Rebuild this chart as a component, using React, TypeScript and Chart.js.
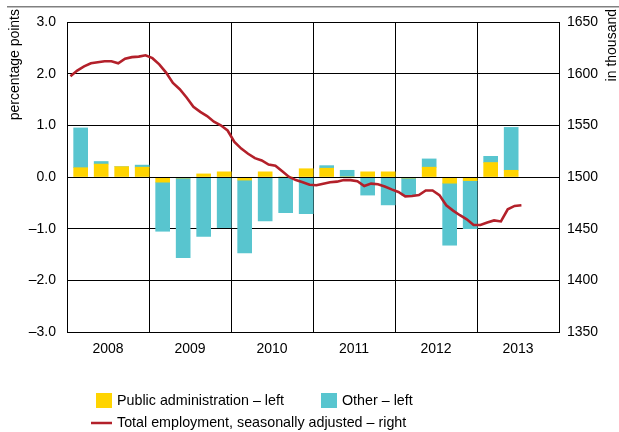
import React, { useEffect, useRef } from 'react';
import { Chart, registerables } from 'chart.js';

Chart.register(...registerables);

// ---- data ----
const years = ['2008', '2009', '2010', '2011', '2012', '2013'];

const quarters = [
  '2008Q1', '2008Q2', '2008Q3', '2008Q4',
  '2009Q1', '2009Q2', '2009Q3', '2009Q4',
  '2010Q1', '2010Q2', '2010Q3', '2010Q4',
  '2011Q1', '2011Q2', '2011Q3', '2011Q4',
  '2012Q1', '2012Q2', '2012Q3', '2012Q4',
  '2013Q1', '2013Q2',
];

// percentage points (left axis)
const publicAdmin = [
  0.18, 0.25, 0.20, 0.19,
  -0.10, -0.02, 0.06, 0.10,
  -0.06, 0.10, 0.00, 0.16,
  0.17, 0.00, 0.10, 0.10,
  -0.02, 0.19, -0.12, -0.07,
  0.28, 0.13,
];

const other = [
  0.77, 0.05, 0.00, 0.04,
  -0.95, -1.54, -1.15, -0.98,
  -1.41, -0.85, -0.69, -0.71,
  0.05, 0.13, -0.35, -0.54,
  -0.33, 0.16, -1.20, -0.93,
  0.12, 0.83,
];

// in thousand (right axis), monthly Jan 2008 - Jul 2013
const employment = [
  1597.5, 1603, 1607, 1610, 1611, 1612, 1612, 1610, 1614.5, 1616, 1616.5, 1617.8,
  1615, 1609, 1601, 1591, 1585, 1577, 1568, 1563, 1559, 1553.5, 1550, 1545,
  1534, 1527.5, 1522.5, 1518.2, 1516, 1512, 1511, 1505.5, 1500, 1497, 1495, 1492.5,
  1492, 1493.5, 1495, 1495.5, 1497, 1497, 1496, 1491.3, 1493.6, 1493, 1490.8, 1488,
  1485.5, 1481.3, 1481.6, 1482.5, 1487, 1487, 1482.5, 1472.6, 1467.5, 1463, 1459, 1453.5,
  1453.5, 1456, 1458, 1457, 1468.7, 1472, 1472.6,
];

const leftTicks = [-3, -2, -1, 0, 1, 2, 3];
const rightTicks = [1350, 1400, 1450, 1500, 1550, 1600, 1650];

const labels = {
  left: 'percentage points',
  right: 'in thousand',
  publicAdmin: 'Public administration \u2013 left',
  other: 'Other \u2013 left',
  employment: 'Total employment, seasonally adjusted \u2013 right',
};

const YELLOW = '#FFD400';
const CYAN = '#58C5CF';
const RED = '#B3202A';
const FONT = "'Liberation Sans', Arial, Helvetica, sans-serif";

export default function App() {
  const ref = useRef<HTMLCanvasElement | null>(null);

  useEffect(() => {
    if (!ref.current) return;

    // x positions in month units from start of 2008
    const barX = quarters.map((_, q) => q * 3 + 2);
    const lineX = employment.map((_, m) => m + 0.5);
    const xTicks: number[] = [];
    for (let i = 0; i <= years.length * 2; i++) xTicks.push(i * 6);

    const decor = {
      id: 'decor',
      afterDatasetDraw(chart: any, args: any) {
        if (args.index !== 1) return;
        const { ctx, chartArea, scales } = chart;
        const y0 = Math.round(scales.y.getPixelForValue(0)) + 0.5;
        ctx.save();
        ctx.strokeStyle = '#000';
        ctx.lineWidth = 1;
        ctx.beginPath();
        ctx.moveTo(chartArea.left, y0);
        ctx.lineTo(chartArea.right, y0);
        ctx.stroke();
        ctx.restore();
      },
      afterDraw(chart: any) {
        const { ctx } = chart;
        ctx.save();
        // top rule
        ctx.strokeStyle = '#808080';
        ctx.lineWidth = 1.5;
        ctx.beginPath();
        ctx.moveTo(7, 6.75);
        ctx.lineTo(619, 6.75);
        ctx.stroke();

        ctx.fillStyle = '#000';
        ctx.font = `14px ${FONT}`;
        // axis titles (rotated, reading bottom-up, top aligned)
        ctx.save();
        ctx.translate(15, 9);
        ctx.rotate(-Math.PI / 2);
        ctx.textAlign = 'right';
        ctx.textBaseline = 'middle';
        ctx.fillText(labels.left, 0, 0);
        ctx.restore();

        ctx.save();
        ctx.translate(612, 9);
        ctx.rotate(-Math.PI / 2);
        ctx.textAlign = 'right';
        ctx.textBaseline = 'middle';
        ctx.fillText(labels.right, 0, 0);
        ctx.restore();

        // legend
        ctx.font = `14.3px ${FONT}`;
        ctx.textAlign = 'left';
        ctx.textBaseline = 'middle';
        ctx.fillStyle = YELLOW;
        ctx.fillRect(96, 393, 16, 15);
        ctx.fillStyle = CYAN;
        ctx.fillRect(321, 393, 16, 15);
        ctx.strokeStyle = RED;
        ctx.lineWidth = 2.5;
        ctx.beginPath();
        ctx.moveTo(91, 423);
        ctx.lineTo(112, 423);
        ctx.stroke();
        ctx.fillStyle = '#000';
        ctx.fillText(labels.publicAdmin, 117, 401);
        ctx.fillText(labels.other, 342, 401);
        ctx.fillText(labels.employment, 117, 423);
        ctx.restore();
      },
    };

    const chart = new Chart(ref.current, {
      type: 'bar',
      data: {
        datasets: [
          {
            type: 'line',
            label: labels.employment,
            data: employment.map((v, i) => ({ x: lineX[i], y: v })),
            yAxisID: 'y2',
            xAxisID: 'x',
            borderColor: RED,
            borderWidth: 2.6,
            pointRadius: 0,
            tension: 0,
            fill: false,
            order: 0,
          } as any,
          {
            type: 'bar',
            label: labels.publicAdmin,
            data: publicAdmin.map((v, i) => ({ x: barX[i], y: v })),
            backgroundColor: YELLOW,
            borderWidth: 0,
            barThickness: 14,
            stack: 'a',
            yAxisID: 'y',
            xAxisID: 'x',
            order: 1,
          },
          {
            type: 'bar',
            label: labels.other,
            data: other.map((v, i) => ({ x: barX[i], y: v })),
            backgroundColor: CYAN,
            borderWidth: 0,
            barThickness: 14,
            stack: 'a',
            yAxisID: 'y',
            xAxisID: 'x',
            order: 2,
          },
        ],
      },
      options: {
        responsive: false,
        animation: false,
        maintainAspectRatio: false,
        layout: { padding: { top: 22, left: 0, right: 0, bottom: 0 } },
        plugins: { legend: { display: false }, tooltip: { enabled: false } },
        scales: {
          x: {
            type: 'linear',
            min: 0,
            max: years.length * 12,
            offset: false,
            afterBuildTicks: (scale: any) => {
              scale.ticks = xTicks.map((v) => ({ value: v }));
            },
            afterFit: (scale: any) => {
              scale.height = 100;
            },
            grid: {
              offset: false,
              drawTicks: false,
              color: (c: any) => (c.tick && c.tick.value % 12 === 0 ? '#000' : 'rgba(0,0,0,0)'),
              lineWidth: 1,
            },
            border: { display: true, color: '#000', width: 1 },
            ticks: {
              autoSkip: false,
              maxRotation: 0,
              padding: 9,
              color: '#000',
              font: { family: FONT, size: 14 },
              callback: (v: any) => {
                const n = Number(v);
                return n % 12 === 6 ? years[(n - 6) / 12] : '';
              },
            },
          },
          y: {
            type: 'linear',
            position: 'left',
            stacked: true,
            min: -3,
            max: 3,
            afterBuildTicks: (scale: any) => {
              scale.ticks = leftTicks.map((v) => ({ value: v }));
            },
            afterFit: (scale: any) => {
              scale.width = 67;
            },
            grid: { drawTicks: false, color: '#000', lineWidth: 1 },
            border: { display: true, color: '#000', width: 1 },
            ticks: {
              padding: 11,
              color: '#000',
              font: { family: FONT, size: 14 },
              callback: (v: any) => {
                const n = Number(v);
                return (n < 0 ? '\u2013' : '') + Math.abs(n).toFixed(1);
              },
            },
          },
          y2: {
            type: 'linear',
            position: 'right',
            min: 1350,
            max: 1650,
            afterBuildTicks: (scale: any) => {
              scale.ticks = rightTicks.map((v) => ({ value: v }));
            },
            afterFit: (scale: any) => {
              scale.width = 60;
            },
            grid: { drawOnChartArea: false, drawTicks: false },
            border: { display: true, color: '#000', width: 1 },
            ticks: {
              padding: 8,
              color: '#000',
              font: { family: FONT, size: 14 },
              callback: (v: any) => String(v),
            },
          },
        },
      },
      plugins: [decor],
    });

    return () => chart.destroy();
  }, []);

  return (
    <div style={{ position: 'absolute', left: 0, top: 0, width: 619, height: 432, background: '#fff' }}>
      <canvas ref={ref} width={619} height={432} style={{ display: 'block' }} />
    </div>
  );
}
